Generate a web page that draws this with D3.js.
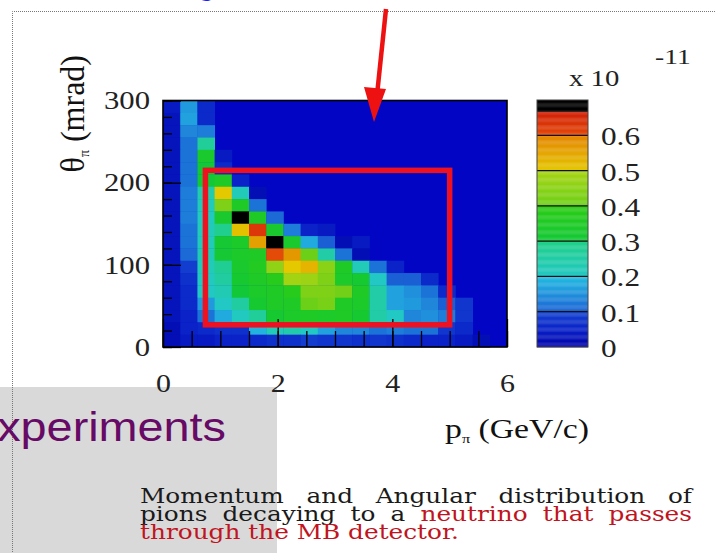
<!DOCTYPE html>
<html>
<head>
<meta charset="utf-8">
<script src="https://cdn.jsdelivr.net/npm/d3@7"></script>
<style>
  body { margin: 0; background: #fff; }
  svg { display: block; }
  text { font-family: "Liberation Serif", "Times New Roman", serif; }
  text.caption { font-family: "DejaVu Serif", serif; font-size: 21px; }
</style>
</head>
<body>
<div id="chart"></div>
<script>
// bin edges of the 2D histogram
var pEdges = [0, 0.3, 0.6, 0.9, 1.2, 1.5, 1.8, 2.1, 2.4, 2.7, 3.0, 3.3, 3.6, 3.9, 4.2, 4.5, 4.8, 5.1, 5.4, 5.7, 6.0];
var thetaEdges = [0, 15, 30, 45, 60, 75, 90, 105, 120, 135, 150, 165, 180, 195, 210, 225, 240, 255, 270, 285, 300];

var pTicks = [0, 2, 4, 6];
var pMinorTicks = [0, 0.5, 1, 1.5, 2, 2.5, 3, 3.5, 4, 4.5, 5, 5.5, 6];
var thetaTicks = [0, 100, 200, 300];
var thetaMinorTicks = [0, 20, 40, 60, 80, 100, 120, 140, 160, 180, 200, 220, 240, 260, 280, 300];
var zTicks = [0, 0.1, 0.2, 0.3, 0.4, 0.5, 0.6];
var zLabels = ["0", "0.1", "0.2", "0.3", "0.4", "0.5", "0.6"];

// selection box drawn on the slide (GeV/c, mrad)
var cutP = [0.74, 5.0];
var cutTheta = [27, 215];

// bin contents (x 10^-11), rows from theta 285-300 (top) down to 0-15 (bottom)
var rate = [
  [0.04, 0.16, 0.06, 0, 0, 0, 0, 0, 0, 0, 0, 0, 0, 0, 0, 0, 0, 0, 0, 0],
  [0.03, 0.17, 0.06, 0, 0, 0, 0, 0, 0, 0, 0, 0, 0, 0, 0, 0, 0, 0, 0, 0],
  [0.03, 0.14, 0.13, 0, 0, 0, 0, 0, 0, 0, 0, 0, 0, 0, 0, 0, 0, 0, 0, 0],
  [0.03, 0.12, 0.27, 0, 0, 0, 0, 0, 0, 0, 0, 0, 0, 0, 0, 0, 0, 0, 0, 0],
  [0.03, 0.12, 0.33, 0.04, 0, 0, 0, 0, 0, 0, 0, 0, 0, 0, 0, 0, 0, 0, 0, 0],
  [0.03, 0.12, 0.30, 0.06, 0, 0, 0, 0, 0, 0, 0, 0, 0, 0, 0, 0, 0, 0, 0, 0],
  [0.03, 0.12, 0.30, 0.35, 0.05, 0, 0, 0, 0, 0, 0, 0, 0, 0, 0, 0, 0, 0, 0, 0],
  [0.03, 0.13, 0.24, 0.50, 0.22, 0.02, 0, 0, 0, 0, 0, 0, 0, 0, 0, 0, 0, 0, 0, 0],
  [0.03, 0.13, 0.22, 0.43, 0.35, 0.12, 0, 0, 0, 0, 0, 0, 0, 0, 0, 0, 0, 0, 0, 0],
  [0.03, 0.13, 0.21, 0.33, 0.69, 0.35, 0.11, 0, 0, 0, 0, 0, 0, 0, 0, 0, 0, 0, 0, 0],
  [0.03, 0.12, 0.22, 0.29, 0.51, 0.63, 0.33, 0.13, 0.05, 0.04, 0, 0, 0, 0, 0, 0, 0, 0, 0, 0],
  [0.03, 0.12, 0.22, 0.31, 0.34, 0.56, 0.69, 0.33, 0.18, 0.10, 0.02, 0.04, 0, 0, 0, 0, 0, 0, 0, 0],
  [0.03, 0.11, 0.23, 0.31, 0.34, 0.35, 0.60, 0.57, 0.40, 0.25, 0.12, 0.02, 0, 0, 0, 0, 0, 0, 0, 0],
  [0.03, 0.09, 0.22, 0.28, 0.33, 0.36, 0.46, 0.50, 0.53, 0.45, 0.35, 0.22, 0.12, 0.05, 0, 0, 0, 0, 0, 0],
  [0.03, 0.07, 0.21, 0.26, 0.32, 0.35, 0.38, 0.49, 0.48, 0.43, 0.34, 0.32, 0.20, 0.10, 0.10, 0.06, 0, 0, 0, 0],
  [0.03, 0.06, 0.20, 0.23, 0.30, 0.34, 0.35, 0.38, 0.43, 0.43, 0.41, 0.35, 0.25, 0.17, 0.15, 0.12, 0.06, 0, 0, 0],
  [0.03, 0.06, 0.16, 0.20, 0.26, 0.32, 0.35, 0.35, 0.40, 0.42, 0.35, 0.34, 0.25, 0.17, 0.16, 0.14, 0.10, 0.08, 0, 0],
  [0.03, 0.05, 0.12, 0.18, 0.21, 0.27, 0.32, 0.34, 0.35, 0.34, 0.35, 0.32, 0.25, 0.20, 0.14, 0.15, 0.13, 0.08, 0, 0],
  [0.02, 0.05, 0.06, 0.07, 0.07, 0.19, 0.22, 0.24, 0.20, 0.17, 0.14, 0.14, 0.12, 0.13, 0.12, 0.12, 0.08, 0.06, 0, 0],
  [0.02, 0.04, 0.04, 0.05, 0.05, 0.06, 0.07, 0.07, 0.09, 0.08, 0.08, 0.07, 0.08, 0.07, 0.06, 0.05, 0.05, 0.04, 0.02, 0]
];

var W = 715, H = 553;
var SX = 1.25; // the slide picture is stretched sideways

var svg = d3.select("#chart").append("svg")
  .attr("width", W)
  .attr("height", H);

var xScale = d3.scaleLinear().domain([0, 6]).range([163, 507]);
var yScale = d3.scaleLinear().domain([0, 300]).range([347, 100.5]);
var zScale = d3.scaleLinear().domain([0, 0.7]).range([347, 100]);

// ROOT-like banded palette
var color = d3.scaleLinear()
  .domain([0, 0.05, 0.0999, 0.1, 0.15, 0.1999, 0.2, 0.2999, 0.3, 0.3999, 0.4, 0.4999, 0.5, 0.5999, 0.6, 0.6666, 0.6667, 0.7])
  .range(["#0000a8", "#0a22c8", "#1444d0", "#1a60d4", "#2090dc", "#22bce0", "#22c8c4", "#20d088",
          "#12c838", "#2ccc14", "#6cd018", "#a8d414", "#e4c800", "#e48400", "#e44a08", "#d02008", "#000000", "#000000"])
  .clamp(true);

// slide decorations behind the chart
svg.append("text")
  .attr("x", 197).attr("y", -6)
  .style("font-family", "Liberation Sans, Arial, sans-serif")
  .style("font-size", "34px")
  .style("fill", "#1a1aff")
  .text("g");

svg.append("rect")
  .attr("x", 0).attr("y", 387)
  .attr("width", 277).attr("height", H - 387)
  .style("fill", "#d9d9d9");

svg.append("path")
  .attr("d", "M" + W + ",11.5 H12.5 V" + H)
  .style("fill", "none")
  .style("stroke", "#777")
  .style("stroke-width", 1)
  .style("stroke-dasharray", "1,1");

svg.append("text")
  .attr("transform", "translate(226,441) scale(1.17,1)")
  .style("font-family", "Liberation Sans, Arial, sans-serif")
  .style("font-size", "40px")
  .style("fill", "#660a66")
  .style("text-anchor", "end")
  .text("Experiments");

// plot background
svg.append("rect")
  .attr("x", xScale(0)).attr("y", yScale(300))
  .attr("width", xScale(6) - xScale(0))
  .attr("height", yScale(0) - yScale(300))
  .style("fill", "#0206c4");

// histogram cells
var cells = [];
rate.forEach(function(row, r) {
  var k = thetaEdges.length - 2 - r;
  row.forEach(function(v, c) {
    if (v > 0) cells.push({ c: c, k: k, v: v });
  });
});

svg.append("g")
  .selectAll("rect")
  .data(cells)
  .enter()
  .append("rect")
  .attr("x", function(d) { return xScale(pEdges[d.c]); })
  .attr("y", function(d) { return yScale(thetaEdges[d.k + 1]); })
  .attr("width", function(d) { return xScale(pEdges[d.c + 1]) - xScale(pEdges[d.c]) + 0.4; })
  .attr("height", function(d) { return yScale(thetaEdges[d.k]) - yScale(thetaEdges[d.k + 1]) + 0.4; })
  .style("fill", function(d) { return color(d.v); });

// axes, ticks pointing into the plot
function cleanAxis(g) {
  g.select(".domain").remove();
  g.selectAll("line").style("stroke", "#000").style("stroke-width", 1.3);
}

svg.append("g")
  .attr("transform", "translate(0,347)")
  .call(d3.axisBottom(xScale).tickValues(pMinorTicks).tickSize(-16).tickFormat(""))
  .call(cleanAxis);

svg.append("g")
  .attr("transform", "translate(0,347)")
  .call(d3.axisBottom(xScale).tickValues(pTicks).tickSize(-28).tickPadding(27).tickFormat(d3.format("d")))
  .call(cleanAxis)
  .selectAll("text")
  .attr("transform", "scale(1.15,1)")
  .style("font-family", "Liberation Serif, serif")
  .style("font-size", "26px")
  .style("fill", "#222");

svg.append("g")
  .attr("transform", "translate(163,0)")
  .call(d3.axisLeft(yScale).tickValues(thetaMinorTicks).tickSize(-9).tickFormat(""))
  .call(cleanAxis);

svg.append("g")
  .attr("transform", "translate(163,0)")
  .call(d3.axisLeft(yScale).tickValues(thetaTicks).tickSize(-18).tickPadding(11).tickFormat(d3.format("d")))
  .call(cleanAxis)
  .selectAll("text")
  .attr("transform", "scale(1.18,1)")
  .style("font-family", "Liberation Serif, serif")
  .style("font-size", "26px")
  .style("fill", "#222");

// frame
svg.append("rect")
  .attr("x", xScale(0)).attr("y", yScale(300))
  .attr("width", xScale(6) - xScale(0))
  .attr("height", yScale(0) - yScale(300))
  .style("fill", "none")
  .style("stroke", "#000")
  .style("stroke-width", 1.6);

// axis titles
var xt = svg.append("text")
  .attr("transform", "translate(445,438) scale(" + SX + ",1)")
  .style("font-size", "27px")
  .style("fill", "#111");
xt.append("tspan").text("p");
xt.append("tspan").attr("dy", 5).style("font-size", "13px").text("π");
xt.append("tspan").attr("dy", -5).text(" (GeV/c)");

var yt = svg.append("text")
  .attr("transform", "translate(84,55) rotate(-90) scale(1,1.05)")
  .style("text-anchor", "end")
  .style("font-size", "32px")
  .style("fill", "#111");
yt.append("tspan").text("θ");
yt.append("tspan").attr("dy", 5).style("font-size", "14px").text("π");
yt.append("tspan").attr("dy", -5).text(" (mrad)");

// selection box
svg.append("rect")
  .attr("x", xScale(cutP[0]))
  .attr("y", yScale(cutTheta[1]))
  .attr("width", xScale(cutP[1]) - xScale(cutP[0]))
  .attr("height", yScale(cutTheta[0]) - yScale(cutTheta[1]))
  .style("fill", "none")
  .style("stroke", "#ee1120")
  .style("stroke-width", 5.5);

// colour bar
var zSteps = d3.range(0, 0.7, 0.0025);
var bar = svg.append("g");
bar.selectAll("rect")
  .data(zSteps)
  .enter()
  .append("rect")
  .attr("x", 537)
  .attr("width", 51)
  .attr("y", function(d) { return zScale(d + 0.0025); })
  .attr("height", function(d) { return zScale(d) - zScale(d + 0.0025) + 0.3; })
  .style("fill", function(d) { return color(d + 0.00125); });

bar.selectAll("line")
  .data(zTicks.slice(1))
  .enter()
  .append("line")
  .attr("x1", 537).attr("x2", 588)
  .attr("y1", function(d) { return zScale(d); })
  .attr("y2", function(d) { return zScale(d); })
  .style("stroke", "#111")
  .style("stroke-width", 1.2);

bar.append("rect")
  .attr("x", 537).attr("y", zScale(0.7))
  .attr("width", 51).attr("height", zScale(0) - zScale(0.7))
  .style("fill", "none")
  .style("stroke", "#444")
  .style("stroke-width", 1);

svg.append("g")
  .selectAll("text")
  .data(zTicks)
  .enter()
  .append("text")
  .attr("transform", function(d) { return "translate(601," + (zScale(d) + 10) + ") scale(" + SX + ",1)"; })
  .style("font-size", "25px")
  .style("fill", "#222")
  .text(function(d, i) { return zLabels[i]; });

svg.append("text")
  .attr("transform", "translate(569,86) scale(" + SX + ",1)")
  .style("font-size", "23px")
  .style("fill", "#222")
  .text("x 10");

svg.append("text")
  .attr("transform", "translate(655,64) scale(" + SX + ",1)")
  .style("font-size", "22px")
  .style("fill", "#222")
  .text("-11");

// red arrow
svg.append("line")
  .attr("x1", 386).attr("y1", 9)
  .attr("x2", 377).attr("y2", 95)
  .style("stroke", "#ee1111")
  .style("stroke-width", 4.5);
svg.append("path")
  .attr("d", "M364,87 L386,89 L374,122 Z")
  .style("fill", "#ee1111");

// caption, justified like the slide text box
var CAPX = 1.18;
var cap = svg.append("g")
  .attr("transform", "translate(140,0) scale(" + CAPX + ",1)");

function justify(t, width) {
  var gaps = t.text().split(" ").length - 1;
  var natural = t.node().getComputedTextLength();
  var ws = Math.max(0, (width / CAPX - natural) / gaps);
  t.style("word-spacing", ws + "px");
}

var c1 = cap.append("text").attr("class", "caption").attr("y", 503).style("fill", "#1a1a1a")
  .text("Momentum and Angular distribution of");
justify(c1, 552);

var c2 = cap.append("text").attr("class", "caption").attr("y", 521);
c2.append("tspan").style("fill", "#1a1a1a").text("pions decaying to a ");
c2.append("tspan").style("fill", "#c0141e").text("neutrino that passes");
justify(c2, 552);

cap.append("text").attr("class", "caption").attr("y", 539).style("fill", "#c0141e")
  .text("through the MB detector.");
</script>
</body>
</html>
